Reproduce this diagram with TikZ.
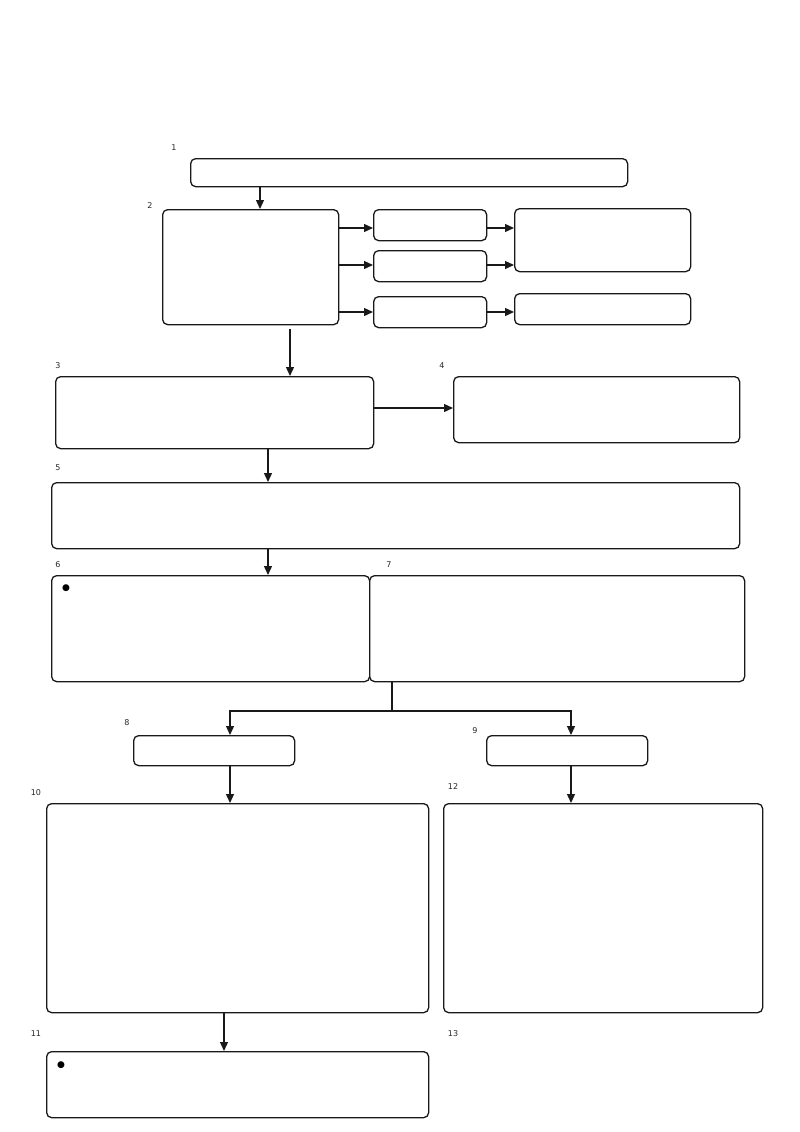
\documentclass[tikz,border=0pt]{standalone}
\usepackage{fontspec}
\setmainfont{DejaVu Sans}
\usetikzlibrary{arrows.meta}
\begin{document}
\begin{tikzpicture}[x=1pt,y=-1pt,
  box/.style={draw=black!90, line width=1.3pt, rounded corners=5pt, anchor=north west, inner sep=0pt, fill=white},
  arr/.style={draw=black!90, line width=1.3pt, -{Triangle[length=9pt,width=8pt]}},
  ln/.style={draw=black!90, line width=1.3pt},
  lbl/.style={font=\fontsize{8}{9}\selectfont, text=black!85, inner sep=0pt},
  bul/.style={font=\fontsize{9}{9}\selectfont, inner sep=0pt}]
\useasboundingbox (0,0) rectangle (800,1132);
% boxes
\node[box, minimum width=437pt, minimum height=28pt] (b1) at (190,158) {};
\node[box, minimum width=176pt, minimum height=115pt] (b2) at (162,209) {};
\node[box, minimum width=113pt, minimum height=31pt] (ba) at (373,209) {};
\node[box, minimum width=113pt, minimum height=31pt] (bb) at (373,250) {};
\node[box, minimum width=113pt, minimum height=31pt] (bc) at (373,296) {};
\node[box, minimum width=176pt, minimum height=63pt] (bd) at (514,208) {};
\node[box, minimum width=176pt, minimum height=31pt] (be) at (514,293) {};
\node[box, minimum width=318pt, minimum height=72pt] (b3) at (55,376) {};
\node[box, minimum width=286pt, minimum height=66pt] (b4) at (453,376) {};
\node[box, minimum width=688pt, minimum height=66pt] (b5) at (51,482) {};
\node[box, minimum width=318pt, minimum height=106pt] (b6) at (51,575) {};
\node[box, minimum width=375pt, minimum height=106pt] (b7) at (369,575) {};
\node[box, minimum width=161pt, minimum height=30pt] (b8) at (133,735) {};
\node[box, minimum width=161pt, minimum height=30pt] (b9) at (486,735) {};
\node[box, minimum width=382pt, minimum height=209pt] (b10) at (46,803) {};
\node[box, minimum width=319pt, minimum height=209pt] (b12) at (443,803) {};
\node[box, minimum width=382pt, minimum height=66pt] (b11) at (46,1051) {};
% labels
\node[lbl] (l1) at (174,148) {1};
\node[lbl] (l2) at (150,206) {2};
\node[lbl] (l3) at (58,366) {3};
\node[lbl] (l4) at (442,366) {4};
\node[lbl] (l5) at (58,468) {5};
\node[lbl] (l6) at (58,565) {6};
\node[lbl] (l7) at (389,565) {7};
\node[lbl] (l8) at (127,723) {8};
\node[lbl] (l9) at (475,731) {9};
\node[lbl] (l10) at (36,793) {10};
\node[lbl] (l12) at (453,787) {12};
\node[lbl] (l11) at (36,1034) {11};
\node[lbl] (l13) at (453,1034) {13};
% bullets
\node[bul] (d6) at (66,588) {●};
\node[bul] (d11) at (61,1065) {●};
% connectors
\draw[arr] (b1.south -| 260,0) -- (b2.north -| 260,0);
\draw[arr] (b2.east |- 0,228) -- (ba.west |- 0,228);
\draw[arr] (b2.east |- 0,265) -- (bb.west |- 0,265);
\draw[arr] (b2.east |- 0,312) -- (bc.west |- 0,312);
\draw[arr] (ba.east |- 0,228) -- (bd.west |- 0,228);
\draw[arr] (bb.east |- 0,265) -- (bd.west |- 0,265);
\draw[arr] (bc.east |- 0,312) -- (be.west |- 0,312);
\draw[arr] ([yshift=-4pt]b2.south -| 290,0) -- (b3.north -| 290,0);
\draw[arr] (b3.east |- 0,408) -- (b4.west |- 0,408);
\draw[arr] (b3.south -| 268,0) -- (b5.north -| 268,0);
\draw[arr] (b5.south -| 268,0) -- (b6.north -| 268,0);
\coordinate (j) at (392,711);
\draw[ln] (b7.south -| j) -- (j);
\draw[arr] (j) -| (b8.north -| 230,0);
\draw[arr] (j) -| (b9.north -| 571,0);
\draw[arr] (b8.south -| 230,0) -- (b10.north -| 230,0);
\draw[arr] (b9.south -| 571,0) -- (b12.north -| 571,0);
\draw[arr] (b10.south -| 224,0) -- (b11.north -| 224,0);
\end{tikzpicture}
\end{document}
